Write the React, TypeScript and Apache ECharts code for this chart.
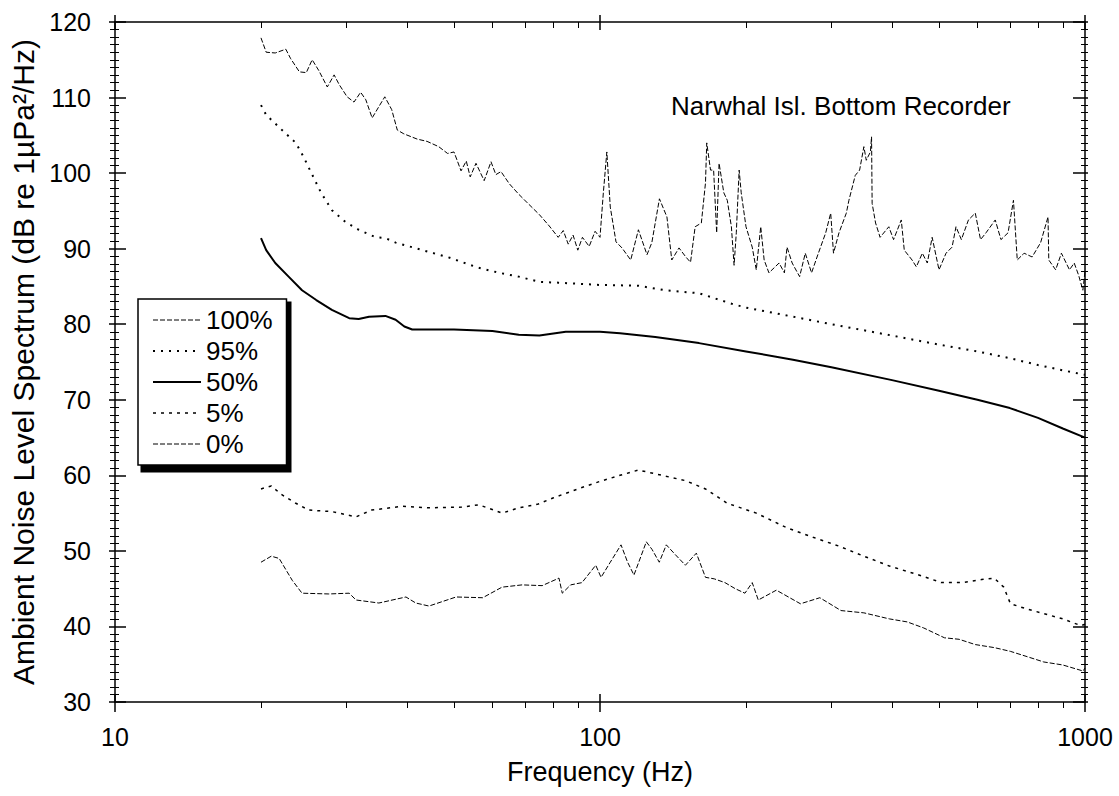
import React, { useEffect, useRef } from "react";
import * as echarts from "echarts";

const FONT = "'Liberation Sans', Arial, Helvetica, sans-serif";

const seriesNames = ["100%", "95%", "50%", "5%", "0%"];
const xTickLabels = ["10", "100", "1000"];
const yTickLabels = ["30", "40", "50", "60", "70", "80", "90", "100", "110", "120"];

const freq100 = [20, 20.5, 21.4, 22.5, 23, 24, 24.8, 25.5, 26.3, 27.4, 28.3, 29, 30.1, 31.1, 32.1, 32.9, 33.9, 35, 36, 37.2, 38.2, 39.4, 42, 44, 46.5, 48.5, 50, 51.7, 53, 54, 55.5, 57.7, 59.6, 61, 62.5, 65, 68, 71, 75, 78.6, 82, 84, 86, 88, 90, 92, 95, 97.7, 100, 101.6, 103.3, 105, 107.9, 111, 115.7, 120, 125, 127.9, 132.6, 137.4, 140.6, 145.5, 150.3, 153.7, 157.1, 161.8, 165, 166, 169, 171.5, 174, 176, 180, 183, 186.6, 189, 191, 193.6, 195.5, 200, 206, 210, 214.5, 218, 223, 234, 240, 243, 249, 258, 265, 273, 282, 292, 299, 303, 311, 322, 326, 336, 343, 350, 354, 361, 363, 364, 370, 378, 394, 403, 418, 424, 440, 449, 462, 473, 484, 500, 517, 532, 542, 556, 575, 594, 609, 625, 653, 671, 694, 712, 725, 749, 778, 810, 839, 842, 870, 894, 929, 950, 970, 990, 1000];
const level100 = [117.9, 116.0, 115.9, 116.4, 115.2, 113.4, 113.3, 115.0, 113.6, 111.4, 113.0, 111.7, 110.1, 109.4, 110.7, 109.7, 107.3, 108.8, 110.1, 108.4, 105.7, 105.2, 104.5, 104.2, 103.5, 102.6, 102.8, 100.3, 101.6, 99.5, 101.3, 99.0, 101.5, 99.8, 100.2, 98.6, 97.2, 96.0, 94.5, 93.0, 91.5, 92.4, 90.6, 91.8, 89.8, 91.5, 90.3, 92.3, 91.5, 97.4, 102.8, 95.5, 90.9, 90.1, 88.5, 92.5, 89.2, 90.8, 96.6, 94.2, 88.5, 90.1, 88.9, 88.2, 92.9, 93.4, 98.7, 104.0, 100.4, 100.4, 92.1, 101.3, 97.4, 96.4, 92.9, 87.8, 92.1, 100.4, 97.4, 92.9, 90.2, 87.2, 92.9, 88.5, 86.8, 88.1, 86.8, 90.2, 88.1, 86.3, 89.4, 86.8, 89.4, 92.1, 94.7, 89.4, 92.1, 94.7, 96.4, 99.7, 100.4, 103.5, 101.7, 102.8, 104.8, 96.0, 93.4, 91.5, 92.9, 91.2, 93.8, 89.8, 88.5, 87.6, 89.4, 88.1, 91.5, 87.2, 89.4, 90.2, 92.9, 91.2, 93.8, 94.7, 91.2, 92.1, 93.8, 91.2, 92.1, 96.4, 88.5, 89.4, 88.9, 90.8, 94.2, 88.5, 87.2, 89.4, 87.2, 88.1, 86.5, 84.5, 87.0];

const freq95 = [20, 20.5, 22.1, 23.6, 24.5, 25.5, 26.6, 28, 29.9, 31.8, 34.5, 36.1, 37.9, 42, 49, 56, 62, 68, 75, 82, 100, 120, 136, 160, 187, 200, 250, 300, 400, 500, 600, 700, 800, 900, 1000];
const level95 = [109.0, 107.7, 105.7, 104.0, 102.1, 99.8, 97.4, 95.1, 93.5, 92.5, 91.5, 91.4, 90.8, 90.0, 88.8, 87.5, 86.8, 86.3, 85.6, 85.5, 85.2, 85.1, 84.5, 84.1, 82.7, 82.2, 81.0, 80.0, 78.5, 77.3, 76.4, 75.5, 74.6, 73.9, 73.3];

const freq50 = [20, 20.5, 21.4, 22.8, 24.3, 26, 28, 30.4, 31.8, 33.4, 36.1, 37.9, 39.5, 41, 50, 60, 68, 75, 85, 100, 110, 130, 160, 200, 250, 300, 400, 500, 600, 700, 800, 900, 1000];
const level50 = [91.4, 89.8, 88.1, 86.3, 84.5, 83.2, 81.9, 80.8, 80.7, 81.0, 81.1, 80.6, 79.7, 79.3, 79.3, 79.1, 78.6, 78.5, 79.0, 79.0, 78.8, 78.3, 77.5, 76.4, 75.3, 74.3, 72.6, 71.2, 70.0, 68.9, 67.6, 66.2, 65.0];

const freq5 = [20, 21, 22, 23.6, 25.1, 28, 31.4, 33.8, 39.1, 44.4, 51.9, 56.3, 62.8, 68, 74.6, 80, 90, 100, 110, 120, 130, 150, 165, 183, 210, 242, 275, 312, 350, 395, 450, 506, 560, 612, 650, 680, 702, 760, 822, 900, 981, 1000];
const level5 = [58.2, 58.6, 57.5, 56.3, 55.4, 55.2, 54.5, 55.4, 55.9, 55.7, 55.8, 56.1, 55.0, 55.7, 56.2, 57.0, 58.2, 59.2, 60.0, 60.7, 60.2, 59.3, 58.2, 56.3, 55.0, 53.1, 51.8, 50.6, 49.3, 48.0, 46.9, 45.8, 45.8, 46.2, 46.4, 45.2, 43.0, 42.3, 41.7, 41.0, 40.1, 40.3];

const freq0 = [20, 21, 21.8, 23.2, 24.3, 27.6, 30.4, 31.4, 35, 39.8, 41.7, 44.4, 50.5, 57.3, 62.8, 69.1, 76, 82.3, 83.6, 87, 91.8, 98, 100.5, 105, 110.5, 114, 117.5, 124.6, 128, 132.5, 137, 143, 150, 158, 165, 172, 181, 190, 199, 206, 212, 231, 259, 284, 314, 350, 395, 430, 465, 513, 550, 594, 650, 702, 760, 822, 900, 991, 1000];
const level0 = [48.5, 49.3, 49.0, 46.1, 44.4, 44.3, 44.4, 43.5, 43.1, 43.9, 43.1, 42.7, 43.9, 43.8, 45.2, 45.5, 45.4, 46.4, 44.4, 45.5, 45.8, 48.1, 46.5, 48.5, 50.8, 48.5, 46.8, 51.2, 50.2, 48.5, 50.8, 49.5, 48.1, 49.7, 46.5, 46.3, 45.8, 45.0, 44.4, 45.8, 43.5, 44.8, 43.0, 43.8, 42.1, 41.8, 41.0, 40.6, 39.8, 38.5, 38.3, 37.6, 37.2, 36.7, 36.0, 35.3, 34.9, 34.1, 34.5];

const annotation = "Narwhal Isl. Bottom Recorder";
const xTitle = "Frequency (Hz)";
const yTitle = "Ambient Noise Level Spectrum (dB re 1\u00b5Pa\u00b2/Hz)";

const styles: Record<string, { type: any; width: number }> = {
  "100%": { type: [5, 2], width: 1 },
  "95%": { type: [2, 6], width: 2 },
  "50%": { type: "solid", width: 2 },
  "5%": { type: [3, 5], width: 1.5 },
  "0%": { type: [5, 2], width: 1 },
};

export default function App() {
  const ref = useRef<HTMLDivElement>(null);
  useEffect(() => {
    const chart = echarts.init(ref.current!, null, { renderer: "svg" });
    const black = "#000";
    const xBase: any = {
      type: "log",
      logBase: 10,
      min: 10,
      max: 1000,
      splitLine: { show: false },
      axisLine: { onZero: false, lineStyle: { color: black, width: 1.5 } },
    };
    const yBase: any = {
      type: "value",
      min: 30,
      max: 120,
      interval: 10,
      splitLine: { show: false },
      axisLine: { onZero: false, lineStyle: { color: black, width: 1.5 } },
    };
    const tickStyle = { color: black, width: 1.5 };
    const minorStyle = { color: black, width: 1 };
    const pairs = (f: number[], v: number[]) => f.map((x, i) => [x, v[i]]);
    const dataSets: Record<string, number[][]> = {
      "100%": pairs(freq100, level100),
      "95%": pairs(freq95, level95),
      "50%": pairs(freq50, level50),
      "5%": pairs(freq5, level5),
      "0%": pairs(freq0, level0),
    };
    const option: any = {
      animation: false,
      backgroundColor: "#fff",
      textStyle: { fontFamily: FONT },
      grid: { left: 115, right: 34, top: 22, bottom: 94, containLabel: false, outerBoundsMode: "none" },
      title: {
        text: annotation,
        left: 671,
        top: 93,
        padding: 0,
        textStyle: { fontSize: 26, fontWeight: "normal", fontFamily: FONT, color: black },
      },
      legend: {
        orient: "vertical",
        left: 138,
        top: 299,
        padding: [8, 14, 8, 14],
        itemWidth: 48,
        itemHeight: 14,
        itemGap: 5,
        selectedMode: false,
        backgroundColor: "#fff",
        borderColor: black,
        borderWidth: 1.5,
        borderRadius: 0,
        textStyle: { fontSize: 26, fontFamily: FONT, color: black, lineHeight: 26 },
        data: seriesNames.map((n) => ({
          name: n,
          itemStyle: { color: black, opacity: 0 },
          lineStyle: { color: black, width: styles[n].width, type: styles[n].type },
        })),
      },
      xAxis: [
        {
          ...xBase,
          position: "bottom",
          axisTick: { inside: true, length: 8, lineStyle: tickStyle },
          minorTick: { show: false },
          axisLabel: {
            fontSize: 25,
            color: black,
            fontFamily: FONT,
            margin: 22,
            formatter: (v: number) => xTickLabels[Math.round(Math.log10(v)) - 1] ?? String(v),
          },
          name: xTitle,
          nameLocation: "middle",
          nameGap: 56,
          nameTextStyle: { fontSize: 27, color: black, fontFamily: FONT },
        },
        {
          ...xBase,
          position: "bottom",
          axisLine: { show: false, onZero: false },
          axisTick: { inside: false, length: 10, lineStyle: tickStyle },
          minorTick: { show: true, splitNumber: 9, length: 6, lineStyle: minorStyle },
          axisLabel: { show: false },
        },
        {
          ...xBase,
          position: "top",
          axisTick: { inside: true, length: 8, lineStyle: tickStyle },
          minorTick: { show: true, splitNumber: 9, length: 6, lineStyle: minorStyle },
          axisLabel: { show: false },
        },
        {
          ...xBase,
          position: "top",
          axisLine: { show: false, onZero: false },
          axisTick: { inside: false, length: 7, lineStyle: tickStyle },
          minorTick: { show: false },
          axisLabel: { show: false },
        },
      ],
      yAxis: [
        {
          ...yBase,
          position: "left",
          axisTick: { inside: true, length: 11, lineStyle: tickStyle },
          minorTick: { show: true, splitNumber: 10, length: 4, lineStyle: minorStyle },
          axisLabel: {
            fontSize: 25,
            color: black,
            fontFamily: FONT,
            margin: 24,
            formatter: (v: number) => yTickLabels[Math.round((v - 30) / 10)] ?? String(v),
          },
          name: yTitle,
          nameLocation: "middle",
          nameGap: 72,
          nameRotate: 90,
          nameTextStyle: { fontSize: 30, color: black, fontFamily: FONT },
        },
        {
          ...yBase,
          position: "left",
          axisLine: { show: false, onZero: false },
          axisTick: { inside: false, length: 6, lineStyle: tickStyle },
          minorTick: { show: true, splitNumber: 10, length: 5, lineStyle: minorStyle },
          axisLabel: { show: false },
        },
        {
          ...yBase,
          position: "right",
          axisTick: { inside: true, length: 12, lineStyle: tickStyle },
          minorTick: { show: true, splitNumber: 10, length: 4, lineStyle: minorStyle },
          axisLabel: { show: false },
        },
        {
          ...yBase,
          position: "right",
          axisLine: { show: false, onZero: false },
          axisTick: { inside: false, length: 3, lineStyle: tickStyle },
          minorTick: { show: true, splitNumber: 10, length: 3, lineStyle: minorStyle },
          axisLabel: { show: false },
        },
      ],
      graphic: [
        {
          type: "rect",
          z: 3,
          shape: { x: 140.5, y: 301.5, width: 151, height: 171 },
          style: { fill: black },
          silent: true,
        },
      ],
      series: seriesNames.map((n) => ({
        type: "line",
        name: n,
        xAxisIndex: 0,
        yAxisIndex: 0,
        data: dataSets[n],
        symbol: "none",
        showSymbol: false,
        silent: true,
        color: black,
        lineStyle: { color: black, width: styles[n].width, type: styles[n].type },
      })),
    };
    chart.setOption(option);
    return () => chart.dispose();
  }, []);
  return (
    <div
      ref={ref}
      style={{ position: "fixed", left: 0, top: 0, width: 1119, height: 796, background: "#fff" }}
    />
  );
}
